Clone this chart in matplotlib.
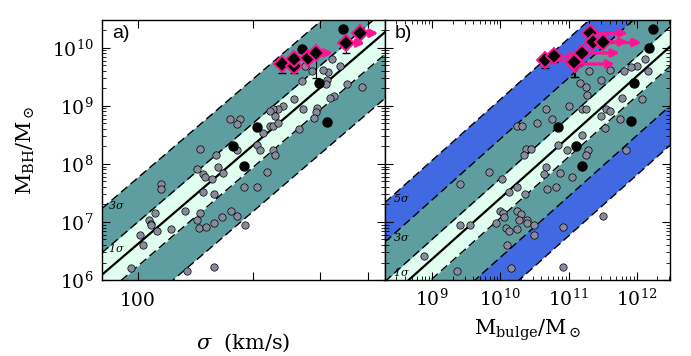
import numpy as np
import matplotlib
matplotlib.use('Agg')
import matplotlib.pyplot as plt
from matplotlib.ticker import FixedLocator, NullLocator, LogLocator, NullFormatter

plt.rcParams['font.family'] = 'serif'
plt.rcParams['font.serif'] = ['DejaVu Serif']
plt.rcParams['mathtext.fontset'] = 'dejavuserif'

# ---- M-sigma panel data (sigma in km/s, log10 M_BH) ----
sig_gray = [385, 352, 338, 321, 315, 304, 312, 310, 286, 268,
            256, 240, 233, 226, 221, 229, 271, 294, 292, 288,
            325, 318, 174, 185, 182, 222, 226, 233, 264, 212, 274,
            145, 160, 182, 205, 209, 225, 228, 162, 143, 148, 150, 156, 167, 217,
            115, 115, 148, 158, 189, 205, 133, 145, 143, 144, 151, 158, 166, 175,
            182, 191, 111, 107, 108, 108, 112, 122, 101, 103, 96, 134, 158]
mbh_gray_a = [9.33, 9.38, 9.68, 9.80, 9.58, 9.61, 9.45, 9.37, 9.60, 9.42,
              9.11, 8.99, 8.94, 8.94, 8.91, 8.82, 8.94, 8.97, 8.89, 8.79,
              9.16, 9.14, 8.78, 8.78, 8.68, 8.66, 8.66, 8.70, 8.60, 8.53, 9.68,
              8.26, 8.15, 8.23, 8.32, 8.23, 8.23, 8.15, 7.95, 7.91, 7.83, 7.77, 7.74, 7.84, 7.86,
              7.66, 7.56, 7.52, 7.48, 7.61, 7.60, 7.18, 7.16, 7.04, 6.90, 6.92, 6.99, 7.08, 7.18,
              7.11, 6.94, 7.16, 7.04, 6.97, 6.94, 6.84, 6.88, 6.78, 6.61, 6.21, 6.15, 6.23]
sig_black = [343, 268, 298, 312, 205, 177, 189]
mbh_black_a = [10.33, 9.98, 9.40, 8.72, 8.63, 8.30, 7.96]

sig_new = [238, 256, 256, 279, 292, 351, 380]
mbh_new_a = [9.72, 9.69, 9.81, 9.83, 9.91, 10.08, 10.25]
err_lo_a = [0.16, 0.13, 0.0, 0.0, 0.43, 0.17, 0.0]
sig_arrow_end = [None, None, None, None, 324, 393, 426]

# ---- M-Mbulge panel data (log10 M_bulge, log10 M_BH) ----
mbul_gray = [12.12, 12.00, 11.91, 11.81, 12.16, 12.07, 11.78, 11.60, 11.48, 11.30,
             11.16, 11.25, 11.27, 11.00, 11.20, 11.26, 11.55, 11.60, 11.47, 11.75,
             11.54, 11.20, 10.67, 10.76, 10.53, 10.25, 10.32,
             10.38, 10.45, 10.35, 10.84, 10.98, 11.28, 11.26, 11.84,
             9.84, 10.02, 9.41, 10.67, 10.64, 10.88, 11.05,
             10.25, 10.81, 10.69, 10.12, 10.36,
             9.99, 10.04, 10.06, 9.94, 10.25, 10.30, 10.28, 10.39, 10.39, 10.50,
             10.08, 10.13, 10.25, 10.50, 10.92, 11.51, 9.41, 9.56, 10.09, 8.88,
             9.36, 10.15, 10.92]
mbh_gray_b = [9.80, 9.68, 9.67, 9.60, 9.60, 9.11, 9.14, 9.61, 9.45, 9.60,
              9.40, 9.33, 9.18, 8.99, 8.95, 8.94, 8.94, 8.91, 8.82, 8.78,
              8.61, 8.50, 8.94, 8.78, 8.70, 8.66, 8.66,
              8.26, 8.26, 8.15, 8.32, 8.23, 8.23, 8.15, 8.23,
              7.86, 7.74, 7.66, 7.94, 7.83, 7.84, 7.77,
              7.61, 7.60, 7.56, 7.52, 7.48,
              7.18, 7.16, 7.08, 6.99, 7.18, 7.14, 7.04, 7.04, 6.98, 6.94,
              6.90, 6.84, 6.88, 6.77, 6.92, 7.11, 6.94, 6.95, 6.61, 6.41,
              6.15, 6.21, 6.23]
mbul_black = [12.24, 12.18, 11.96, 11.92, 10.84, 11.11, 11.20]
mbh_black_b = [10.32, 10.00, 9.40, 8.73, 8.64, 8.30, 7.96]

mbul_new = [11.32, 11.36, 11.51, 11.19, 11.10, 11.08, 10.66, 10.78]
mbh_new_b = [10.25, 10.10, 10.09, 9.91, 9.72, 9.75, 9.78, 9.85]
err_lo_b = [0.0, 0.0, 0.0, 0.0, 0.23, 0.26, 0.13, 0.10]
mbul_arrow_end = [11.87, 11.87, 12.07, 11.75, 11.68, None, 11.16, 11.16]

# scaling relations: intercept, slope, pivot, intrinsic scatter
msig_alpha, msig_beta, msig_pivot, msig_scatter = 8.32, 5.64, 200.0, 0.38
mbul_alpha, mbul_beta, mbul_pivot, mbul_scatter = 8.46, 1.05, 11.0, 0.34

sig_range = (80.5, 443.0)
mbul_range = (8.31, 12.485)
mbh_range = (1e6, 3e10)

teal = '#5f9ea0'
mint = '#e0fff0'
blue = '#4169e1'
pink = '#ff1493'
gray = '#878c9c'


def draw_bands(ax, xs, line, scatter, nsig):
    cols = {1: mint, 3: teal, 5: blue}
    for n in sorted(nsig, reverse=True):
        ax.fill_between(xs, 10**(line - n*scatter), 10**(line + n*scatter),
                        color=cols[n], lw=0, zorder=1)
    for n in nsig:
        for s in (-1, 1):
            ax.plot(xs, 10**(line + s*n*scatter), color='k', lw=1.0,
                    ls=(0, (6, 3)), zorder=2)
    ax.plot(xs, 10**line, color='k', lw=1.6, zorder=2)


def draw_points(ax, xg, yg, xb, yb, xn, yn, elo, xend):
    ax.scatter(xg, 10**np.array(yg), s=28, c=gray, edgecolors='k', linewidths=0.5, zorder=3)
    ax.scatter(xb, 10**np.array(yb), s=42, c='k', zorder=3)
    for x0, y0, x1 in zip(xn, yn, xend):
        if x1 is not None:
            ax.annotate('', xy=(x1, 10**y0), xytext=(x0, 10**y0),
                        arrowprops=dict(arrowstyle='-|>', color=pink, lw=2.4,
                                        mutation_scale=11, shrinkA=0, shrinkB=0),
                        zorder=4)
    for x0, y0, e in zip(xn, yn, elo):
        if e > 0:
            ax.errorbar([x0], [10**y0], yerr=[[10**y0 - 10**(y0 - e)], [0]],
                        fmt='none', ecolor='k', elinewidth=0.8, capsize=3, zorder=4)
    ax.plot(xn, 10**np.array(yn), ls='none', marker='D', ms=8, mfc='k', mec=pink,
            mew=1.4, zorder=5)


def style_axis(ax):
    ax.tick_params(which='both', direction='in', top=True, right=True, labelsize=13.5)
    ax.tick_params(which='major', length=6, width=0.8, pad=6)
    ax.tick_params(which='minor', length=3, width=0.6)
    for sp in ax.spines.values():
        sp.set_linewidth(1.0)


fig = plt.figure(figsize=(6.91, 3.56), dpi=100)
ax1 = fig.add_axes([102/691, 76/356, 283/691, 260/356])
ax2 = fig.add_axes([385/691, 76/356, 285/691, 260/356])

# panel a) M-sigma
xs = np.array(sig_range)
line = msig_alpha + msig_beta*np.log10(xs/msig_pivot)
draw_bands(ax1, xs, line, msig_scatter, [1, 3])
draw_points(ax1, sig_gray, mbh_gray_a, sig_black, mbh_black_a,
            sig_new, mbh_new_a, err_lo_a, sig_arrow_end)
ax1.set_xscale('log')
ax1.set_yscale('log')
ax1.set_xlim(*sig_range)
ax1.set_ylim(*mbh_range)
ax1.xaxis.set_major_locator(FixedLocator([100, 200, 300, 400]))
ax1.xaxis.set_minor_locator(NullLocator())
ax1.set_xticklabels(['100', '', '', ''])
ax1.yaxis.set_major_locator(LogLocator(base=10, numticks=10))
ax1.yaxis.set_minor_locator(LogLocator(base=10, subs=np.arange(2, 10), numticks=10))
style_axis(ax1)
ax1.tick_params(axis='x', pad=9)
ax1.set_xlabel(r'$\sigma$  (km/s)', fontsize=15, labelpad=15)
ax1.set_ylabel(r'M$_{\rm BH}$/M$_\odot$', fontsize=15, labelpad=11)
ax1.text(0.035, 0.95, 'a)', transform=ax1.transAxes, fontsize=14,
         family='Liberation Sans', va='center', zorder=6)
ax1.text(0.02, 0.29, r'3$\sigma$', transform=ax1.transAxes, fontsize=8,
         style='italic', va='center', zorder=6)
ax1.text(0.02, 0.125, r'1$\sigma$', transform=ax1.transAxes, fontsize=8,
         style='italic', va='center', zorder=6)

# panel b) M-Mbulge
xb = np.array(mbul_range)
lineb = mbul_alpha + mbul_beta*(xb - mbul_pivot)
draw_bands(ax2, 10**xb, lineb, mbul_scatter, [1, 3, 5])
draw_points(ax2, 10**np.array(mbul_gray), mbh_gray_b, 10**np.array(mbul_black), mbh_black_b,
            10**np.array(mbul_new), mbh_new_b, err_lo_b,
            [None if v is None else 10**v for v in mbul_arrow_end])
ax2.set_xscale('log')
ax2.set_yscale('log')
ax2.set_xlim(10**mbul_range[0], 10**mbul_range[1])
ax2.set_ylim(*mbh_range)
ax2.xaxis.set_major_locator(FixedLocator([1e9, 1e10, 1e11, 1e12]))
ax2.xaxis.set_minor_locator(LogLocator(base=10, subs=np.arange(2, 10), numticks=12))
ax2.yaxis.set_major_locator(LogLocator(base=10, numticks=10))
ax2.yaxis.set_minor_locator(LogLocator(base=10, subs=np.arange(2, 10), numticks=10))
ax2.yaxis.set_major_formatter(NullFormatter())
style_axis(ax2)
ax2.set_xlabel(r'M$_{\rm bulge}$/M$_\odot$', fontsize=15, labelpad=6)
ax2.text(0.035, 0.95, 'b)', transform=ax2.transAxes, fontsize=14,
         family='Liberation Sans', va='center', zorder=6)
ax2.text(0.028, 0.315, r'5$\sigma$', transform=ax2.transAxes, fontsize=8,
         style='italic', va='center', zorder=6)
ax2.text(0.028, 0.165, r'3$\sigma$', transform=ax2.transAxes, fontsize=8,
         style='italic', va='center', zorder=6)
ax2.text(0.028, 0.03, r'1$\sigma$', transform=ax2.transAxes, fontsize=8,
         style='italic', va='center', zorder=6)

fig.savefig('out.png', dpi=100)
